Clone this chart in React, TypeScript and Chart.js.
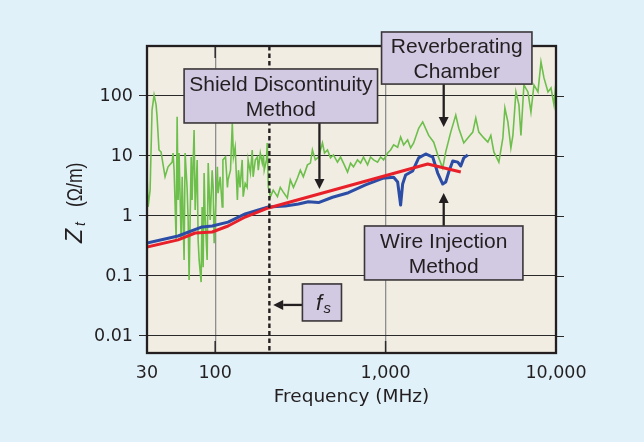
import React, { useEffect, useRef } from "react";
import { Chart, registerables } from "chart.js";

Chart.register(...registerables);

// ---- Axes ----
const X_MIN = 39.8;
const X_MAX = 10000;
const Y_MIN = 0.0052;
const Y_MAX = 681;
const X_TICKS = [39.8, 100, 1000, 10000];
const X_TICK_LABELS = ["30", "100", "1,000", "10,000"];
const Y_TICKS = [0.01, 0.1, 1, 10, 100];
const Y_TICK_LABELS = ["0.01", "0.1", "1", "10", "100"];

// ---- Series (frequency in MHz, Zt in ohm/m) ----
const redFreq = [39.8, 60.6, 76.3, 96.0, 119, 150, 205, 1766, 2762];
const redZ = [0.304, 0.4, 0.52, 0.54, 0.68, 0.96, 1.36, 7.36, 5.4];

const blueFreq = [39.8, 60.6, 83.8, 96.0, 119, 150, 205, 258, 308, 352, 404, 488, 605, 762, 960, 1115, 1177, 1225, 1259, 1311, 1442, 1564, 1719, 1890, 2022, 2164, 2254, 2348, 2478, 2651, 2762, 2877, 3037];
const blueZ = [0.355, 0.464, 0.656, 0.68, 0.79, 1.08, 1.41, 1.47, 1.58, 1.73, 1.67, 2.05, 2.44, 3.29, 4.25, 4.42, 3.69, 1.52, 3.41, 4.82, 5.62, 9.3, 10.8, 9.6, 5.2, 3.41, 3.69, 5.4, 8.25, 7.9, 6.8, 9.3, 10.4];

const greenFreq = [39.8, 40.4, 41.5, 42.6, 43.8, 45.0, 45.6, 46.8, 48.1, 50.8,
  52.9, 55.9, 56.6, 57.4, 59.0, 59.8, 60.6, 61.4, 63.1, 64.0,
  65.7, 66.6, 68.4, 69.4, 70.3, 72.3, 73.2, 75.2, 76.3, 78.4,
  79.4, 80.5, 82.7, 83.8, 85.0, 86.1, 87.3, 89.7, 91.0, 93.5,
  96.0, 97.3, 98.6, 101, 103, 104, 107, 110, 111, 115,
  118, 119, 123, 126, 128, 131, 135, 137, 140, 144,
  146, 150, 154, 156, 161, 165, 167, 172, 177, 179,
  184, 189, 192, 194, 200, 202, 205, 211, 219, 232,
  241, 251, 265, 276, 288, 304, 316, 329, 348, 362,
  372, 387, 404, 426, 438, 456, 475, 494, 522, 544,
  566, 598, 623, 648, 684, 713, 742, 784, 816, 850,
  897, 935, 973, 1028, 1070, 1115, 1177, 1225, 1276, 1347,
  1403, 1461, 1564, 1651, 1790, 1916, 2050, 2164, 2254, 2412,
  2581, 2688, 2877, 3037, 3249, 3383, 3524, 3771, 3981, 4146,
  4318, 4620, 4878, 5012, 5219, 5436, 5585, 5818, 6060, 6226,
  6482, 6843, 7127, 7424, 7838, 8163, 8500, 8975, 9346, 9732,
  10000];
const greenZ = [4.8, 1.41, 2.7, 58, 104, 71, 45, 12.6, 11.7, 4.5,
  6.6, 7.9, 11.2, 5.8, 0.4, 45, 1.85, 11.2, 0.4, 4.5,
  0.185, 11.2, 3.0, 0.86, 0.086, 9.6, 1.85, 27, 1.26, 8.6,
  0.4, 0.185, 0.079, 1.41, 0.14, 5.2, 0.96, 0.185, 7.6, 0.86,
  5.8, 3.0, 0.35, 1.85, 6.6, 2.4, 4.5, 1.41, 8.6, 9.6,
  3.0, 4.0, 5.8, 35, 9.6, 14, 1.85, 5.8, 3.0, 8.6,
  2.1, 3.5, 3.0, 8.6, 5.2, 12.6, 4.5, 8.6, 9.6, 5.8,
  11.2, 7.6, 10.4, 5.8, 8.6, 16.5, 3.0, 2.1, 2.7, 2.1,
  3.0, 2.5, 2.0, 4.0, 3.0, 4.3, 5.8, 4.5, 7.1, 7.6,
  12.6, 8.6, 9.6, 16.5, 11.2, 12.6, 9.3, 10.4, 7.9, 9.6,
  7.6, 5.4, 7.6, 6.6, 8.6, 7.6, 9.6, 7.1, 9.6, 8.6,
  7.9, 9.6, 8.6, 11.2, 12.6, 15.3, 14, 20.7, 15.3, 18.5,
  13.6, 16.5, 29, 37, 22, 17, 9.3, 6.3, 11.7, 25,
  48, 29, 16.5, 20, 25, 43, 25, 20, 17, 22,
  11.7, 7.9, 20, 63, 37, 13.6, 22, 117, 71, 22,
  153, 117, 54, 153, 117, 369, 200, 117, 136, 71,
  171];

// ---- Annotations (data coordinates) ----
const FS = 208; // MHz, dashed line
const BOXES = [
  { lines: ["Shield Discontinuity", "Method"], f1: 65.7, f2: 897, z1: 282, z2: 35.5 },
  { lines: ["Reverberating", "Chamber"], f1: 947, f2: 7225, z1: 1166, z2: 158 },
  { lines: ["Wire Injection", "Method"], f1: 752, f2: 6395, z1: 0.681, z2: 0.0858 },
];
const FS_BOX = { f1: 325, f2: 551, z1: 0.0736, z2: 0.0178 };
// arrows: from (f, z) to (f, z)
const ARROWS = [
  { fa: 409, za: 35.5, fb: 409, zb: 2.82 },
  { fa: 2193, za: 158, fb: 2193, zb: 30.4 },
  { fa: 2193, za: 0.681, fb: 2193, zb: 2.42 },
  { fa: 325, za: 0.0329, fb: 219, zb: 0.0329 },
];

const BG = "#e0f1fa";
const PLOT_BG = "#f1ede3";
const BOX_FILL = "#d2c9e3";
const INK = "#231f20";
const GRID_DARK = "#2a2a2a";
const GRID_GREY = "#8e8e8e";
const AXIS_FONT = "'DejaVu Sans', sans-serif";
const BOX_FONT = "'Liberation Sans', Arial, sans-serif";

function toXY(fs: number[], zs: number[]) {
  return fs.map((f, i) => ({ x: f, y: zs[i] }));
}

function drawArrow(ctx: CanvasRenderingContext2D, x1: number, y1: number, x2: number, y2: number) {
  const ang = Math.atan2(y2 - y1, x2 - x1);
  const len = 10;
  const hw = 5;
  const bx = x2 - Math.cos(ang) * len;
  const by = y2 - Math.sin(ang) * len;
  ctx.beginPath();
  ctx.moveTo(x1, y1);
  ctx.lineTo(bx, by);
  ctx.stroke();
  ctx.beginPath();
  ctx.moveTo(x2, y2);
  ctx.lineTo(bx - Math.sin(ang) * hw, by + Math.cos(ang) * hw);
  ctx.lineTo(bx + Math.sin(ang) * hw, by - Math.cos(ang) * hw);
  ctx.closePath();
  ctx.fill();
}

const decorPlugin = {
  id: "decor",
  beforeDraw(chart: any) {
    const { ctx, chartArea: a } = chart;
    ctx.save();
    ctx.fillStyle = BG;
    ctx.fillRect(0, 0, chart.width, chart.height);
    ctx.fillStyle = PLOT_BG;
    ctx.fillRect(a.left, a.top, a.right - a.left, a.bottom - a.top);
    ctx.restore();
  },
  beforeDatasetsDraw(chart: any) {
    const { ctx, chartArea: a } = chart;
    const x = chart.scales.x;
    const y = chart.scales.y;
    ctx.save();
    ctx.strokeStyle = GRID_DARK;
    ctx.lineWidth = 1;
    for (const v of Y_TICKS) {
      const py = Math.round(y.getPixelForValue(v)) + 0.5;
      ctx.beginPath();
      ctx.moveTo(a.right, py);
      ctx.lineTo(a.right + 8, py);
      ctx.stroke();
    }
    ctx.lineWidth = 1.5;
    for (const v of X_TICKS.slice(1, -1)) {
      const px = x.getPixelForValue(v);
      ctx.beginPath();
      ctx.moveTo(px, a.top);
      ctx.lineTo(px, a.top + 12);
      ctx.moveTo(px, a.bottom - 12);
      ctx.lineTo(px, a.bottom);
      ctx.stroke();
    }
    ctx.restore();
  },
  afterDatasetsDraw(chart: any) {
    const { ctx, chartArea: a } = chart;
    const x = chart.scales.x;
    const y = chart.scales.y;
    ctx.save();
    // frame
    ctx.strokeStyle = INK;
    ctx.lineWidth = 2.3;
    ctx.strokeRect(a.left, a.top, a.right - a.left, a.bottom - a.top);

    // dashed f_s line
    const fx = x.getPixelForValue(FS);
    ctx.lineWidth = 2.4;
    ctx.setLineDash([4.5, 3]);
    ctx.beginPath();
    ctx.moveTo(fx, a.top);
    ctx.lineTo(fx, a.bottom);
    ctx.stroke();
    ctx.setLineDash([]);

    // arrows
    ctx.fillStyle = INK;
    ctx.lineWidth = 2.3;
    for (const ar of ARROWS) {
      drawArrow(ctx, x.getPixelForValue(ar.fa), y.getPixelForValue(ar.za), x.getPixelForValue(ar.fb), y.getPixelForValue(ar.zb));
    }

    // boxes
    ctx.lineWidth = 1.6;
    for (const b of BOXES) {
      const x1 = x.getPixelForValue(b.f1);
      const x2 = x.getPixelForValue(b.f2);
      const y1 = y.getPixelForValue(b.z1);
      const y2 = y.getPixelForValue(b.z2);
      ctx.fillStyle = BOX_FILL;
      ctx.fillRect(x1, y1, x2 - x1, y2 - y1);
      ctx.strokeStyle = "#3a3638";
      ctx.strokeRect(x1, y1, x2 - x1, y2 - y1);
      ctx.fillStyle = INK;
      ctx.font = `21px ${BOX_FONT}`;
      ctx.textAlign = "center";
      ctx.textBaseline = "alphabetic";
      const cx = (x1 + x2) / 2;
      const cy = (y1 + y2) / 2;
      ctx.fillText(b.lines[0], cx, cy - 5);
      ctx.fillText(b.lines[1], cx, cy + 20);
    }
    // f_s box
    {
      const x1 = x.getPixelForValue(FS_BOX.f1);
      const x2 = x.getPixelForValue(FS_BOX.f2);
      const y1 = y.getPixelForValue(FS_BOX.z1);
      const y2 = y.getPixelForValue(FS_BOX.z2);
      ctx.fillStyle = BOX_FILL;
      ctx.fillRect(x1, y1, x2 - x1, y2 - y1);
      ctx.strokeStyle = "#3a3638";
      ctx.strokeRect(x1, y1, x2 - x1, y2 - y1);
      ctx.fillStyle = INK;
      ctx.textAlign = "left";
      ctx.textBaseline = "alphabetic";
      const cx = (x1 + x2) / 2;
      const cy = (y1 + y2) / 2;
      ctx.font = `italic 22px ${BOX_FONT}`;
      ctx.fillText("f", cx - 6, cy + 7.5);
      ctx.font = `italic 15px ${BOX_FONT}`;
      ctx.fillText("s", cx + 1.5, cy + 11);
    }

    // y-axis title: Z_t (Ω/m)
    ctx.translate(82, a.top + 197);
    ctx.rotate(-Math.PI / 2);
    ctx.fillStyle = INK;
    ctx.textAlign = "left";
    ctx.textBaseline = "alphabetic";
    ctx.font = `italic 23px ${BOX_FONT}`;
    ctx.fillText("Z", 0, 0);
    ctx.font = `italic 14px ${BOX_FONT}`;
    ctx.fillText("t", 17, 3);
    ctx.translate(36, 0);
    ctx.scale(0.8, 1);
    ctx.font = `22px ${BOX_FONT}`;
    ctx.fillText("(Ω/m)", 0, 0);
    ctx.restore();
  },
};

export default function App() {
  const ref = useRef<HTMLCanvasElement | null>(null);
  useEffect(() => {
    if (!ref.current) return;
    const chart = new Chart(ref.current, {
      type: "line",
      data: {
        datasets: [
          { label: "Model", data: toXY(redFreq, redZ), borderColor: "#e8202a", borderWidth: 3, pointRadius: 0, tension: 0, order: 0, borderJoinStyle: "round" },
          { label: "Wire Injection", data: toXY(blueFreq, blueZ), borderColor: "#2c4da6", borderWidth: 3, pointRadius: 0, tension: 0, order: 1, borderJoinStyle: "round" },
          { label: "Reverberating Chamber", data: toXY(greenFreq, greenZ), borderColor: "#6dbf4b", borderWidth: 1.6, pointRadius: 0, tension: 0, order: 2 },
        ],
      } as any,
      options: {
        animation: false,
        responsive: false,
        events: [],
        layout: { padding: { left: 0, right: 88, top: 46, bottom: 0 } },
        plugins: { legend: { display: false }, tooltip: { enabled: false } },
        scales: {
          x: {
            type: "logarithmic",
            min: X_MIN,
            max: X_MAX,
            afterBuildTicks: (s: any) => {
              s.ticks = X_TICKS.map((v) => ({ value: v }));
            },
            afterFit: (s: any) => {
              s.height = 89;
            },
            ticks: {
              autoSkip: false,
              maxRotation: 0,
              padding: 10,
              color: INK,
              font: { family: AXIS_FONT, size: 17.5 },
              callback: (_v: any, i: number) => X_TICK_LABELS[i],
            },
            grid: { color: GRID_GREY, lineWidth: 1.3, drawTicks: false },
            border: { display: false },
            title: {
              display: true,
              text: "Frequency (MHz)",
              color: INK,
              font: { family: AXIS_FONT, size: 18.5 },
              padding: { top: 0, bottom: 34 },
            },
          },
          y: {
            type: "logarithmic",
            min: Y_MIN,
            max: Y_MAX,
            afterBuildTicks: (s: any) => {
              s.ticks = Y_TICKS.map((v) => ({ value: v }));
            },
            afterFit: (s: any) => {
              s.width = 147;
            },
            ticks: {
              autoSkip: false,
              padding: 6,
              color: INK,
              font: { family: AXIS_FONT, size: 17.5 },
              callback: (_v: any, i: number) => Y_TICK_LABELS[i],
            },
            grid: { color: GRID_DARK, lineWidth: 1, tickLength: 8, drawTicks: true },
            border: { display: false },
          },
        },
      } as any,
      plugins: [decorPlugin as any],
    });
    return () => chart.destroy();
  }, []);

  return (
    <div style={{ position: "fixed", left: 0, top: 0, width: 644, height: 442, background: BG }}>
      <canvas ref={ref} width={644} height={442} style={{ display: "block" }} />
    </div>
  );
}
